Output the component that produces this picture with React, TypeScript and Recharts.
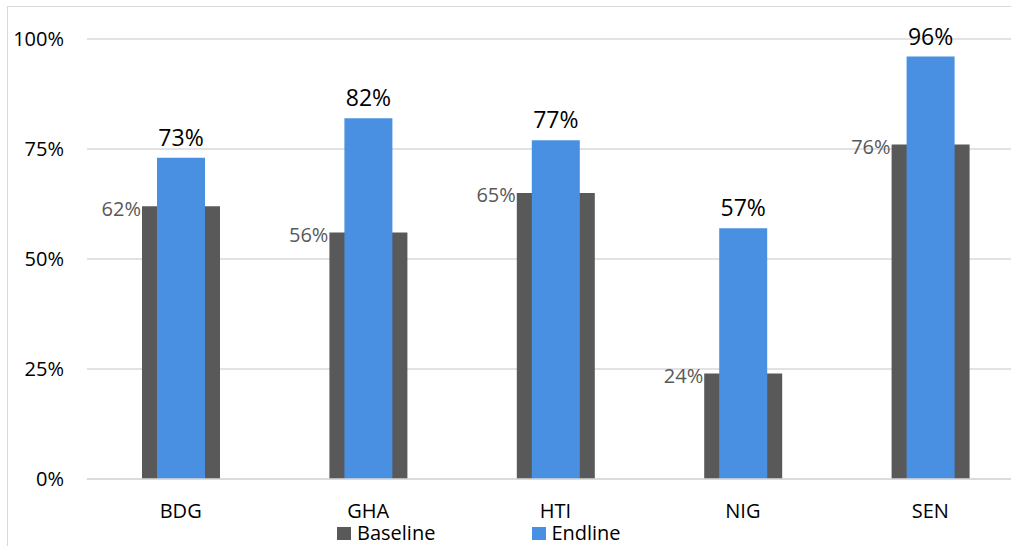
import React from 'react';
import { BarChart, Bar, XAxis, YAxis, CartesianGrid } from 'recharts';

// Country codes along the category axis
const categories = ['BDG', 'GHA', 'HTI', 'NIG', 'SEN'];
// Share (%) at baseline and at endline, per country
const baselineValues = [62, 56, 65, 24, 76];
const endlineValues = [73, 82, 77, 57, 96];
// Value-axis ticks (%)
const yTicks = [0, 25, 50, 75, 100];
// Series names shown in the legend
const seriesNames = ['Baseline', 'Endline'];

const BASE_COLOR = '#595959';
const END_COLOR = '#4a90e2';
const GRID_COLOR = '#d9d9d9';
const FONT = '"Open Sans", "DejaVu Sans", sans-serif';

const data = categories.map((name, i) => ({
  name,
  baseline: baselineValues[i],
  endline: endlineValues[i],
}));

// Baseline value sits just left of the bar top, in grey
const BaselineLabel = (props: any) => {
  const { x, y, value } = props;
  return (
    <text
      x={Number(x) - 1}
      y={Number(y) + 4}
      textAnchor="end"
      dominantBaseline="middle"
      fill={BASE_COLOR}
      fontSize={20}
      fontFamily={FONT}
    >
      {`${value}%`}
    </text>
  );
};

// Endline value centred above the bar, in black
const EndlineLabel = (props: any) => {
  const { x, y, width, value } = props;
  return (
    <text
      x={Number(x) + Number(width) / 2}
      y={Number(y) - 12}
      textAnchor="middle"
      fill="#000"
      fontSize={23}
      fontFamily={FONT}
    >
      {`${value}%`}
    </text>
  );
};

export default function App() {
  const swatchColors = [BASE_COLOR, END_COLOR];
  return (
    <div
      style={{
        position: 'absolute',
        left: 0,
        top: 0,
        width: 1011,
        height: 546,
        overflow: 'hidden',
        background: '#fff',
        fontFamily: FONT,
      }}
    >
      {/* chart frame */}
      <div
        style={{
          position: 'absolute',
          left: 7,
          top: 6,
          width: 1100,
          height: 600,
          borderLeft: `1px solid ${GRID_COLOR}`,
          borderTop: `1px solid ${GRID_COLOR}`,
        }}
      />
      <div style={{ position: 'absolute', left: 0, top: 0 }}>
        <BarChart
          width={1030}
          height={546}
          data={data}
          margin={{ top: 39, right: 6, bottom: 7, left: 8 }}
        >
          <CartesianGrid
            xAxisId="base"
            vertical={false}
            stroke={GRID_COLOR}
            strokeWidth={1.5}
          />
          <XAxis
            xAxisId="base"
            dataKey="name"
            height={60}
            tickLine={false}
            tickSize={0}
            tickMargin={25}
            axisLine={{ stroke: GRID_COLOR, strokeWidth: 1.5 }}
            tick={{ fill: '#000', fontSize: 20, fontFamily: FONT }}
            interval={0}
          />
          <XAxis xAxisId="end" dataKey="name" hide />
          <YAxis
            width={79}
            domain={[0, 100]}
            ticks={yTicks}
            tickFormatter={(v: number) => `${v}%`}
            axisLine={false}
            tickLine={false}
            tickSize={0}
            tickMargin={23}
            tick={{ fill: '#000', fontSize: 20, fontFamily: FONT }}
          />
          <Bar
            xAxisId="base"
            dataKey="baseline"
            fill={BASE_COLOR}
            barSize={78}
            isAnimationActive={false}
            label={<BaselineLabel />}
          />
          <Bar
            xAxisId="end"
            dataKey="endline"
            fill={END_COLOR}
            barSize={48}
            isAnimationActive={false}
            label={<EndlineLabel />}
          />
        </BarChart>
      </div>
      {/* legend */}
      <div
        style={{
          position: 'absolute',
          left: 337,
          top: 519,
          display: 'flex',
          alignItems: 'center',
          fontSize: 20,
          lineHeight: '27px',
          color: '#000',
        }}
      >
        {seriesNames.map((name, i) => (
          <div
            key={name}
            style={{
              display: 'flex',
              alignItems: 'center',
              marginRight: i === 0 ? 97 : 0,
            }}
          >
            <span
              style={{
                display: 'inline-block',
                width: 14,
                height: 13,
                marginTop: 2,
                marginRight: i === 0 ? 6 : 5,
                background: swatchColors[i],
              }}
            />
            <span>{name}</span>
          </div>
        ))}
      </div>
    </div>
  );
}
